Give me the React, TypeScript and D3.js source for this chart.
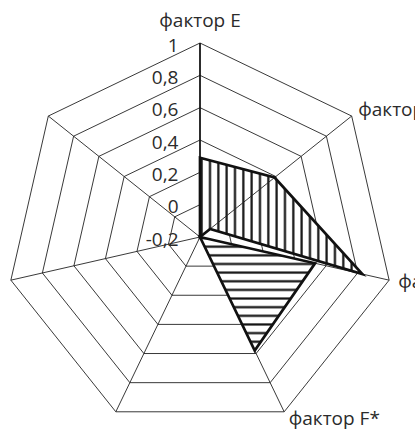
import React from "react";
import * as d3 from "d3";

// категории (по часовой стрелке от верхней оси)
const categories = ["фактор E", "фактор C", "фактор A", "фактор F*", "", "", ""];
const ticks = [-0.2, 0, 0.2, 0.4, 0.6, 0.8, 1];

// ряд с вертикальной штриховкой: индексы осей и значения по порядку обхода
const vertAxes = [0, 1, 2, 1, 0];
const vertValues = [0.29, 0.39, 0.83, -0.12, -0.2];

// ряд с горизонтальной штриховкой
const horizValues = [-0.2, -0.2, 0.53, 0.58, -0.2, -0.2, -0.2];

const W = 415;
const H = 430;
const cx = 200;
const cy = 237;
const R = 194;

// смещения подписей категорий относительно вершины
const labelPos = [
  { dx: 0, dy: -16.5, anchor: "middle" },
  { dx: 6.5, dy: 0, anchor: "start" },
  { dx: 9, dy: 8, anchor: "start" },
  { dx: 4.5, dy: 13.5, anchor: "start" },
  { dx: -5, dy: 13.5, anchor: "end" },
  { dx: -9, dy: 8, anchor: "end" },
  { dx: -6, dy: 0, anchor: "end" },
];

const font = "'Open Sans', sans-serif";
const fontSize = 19;
const textColor = "#2b2b2b";

export default function App() {
  const n = categories.length;
  const r = d3.scaleLinear().domain([-0.2, 1]).range([0, R]);
  const angle = (i: number) => (i * 2 * Math.PI) / n;

  const ring = d3
    .lineRadial<number>()
    .angle((_, i) => angle(i))
    .radius((d) => r(d))
    .curve(d3.curveLinearClosed);

  const vertPath = d3
    .lineRadial<number>()
    .angle((_, i) => angle(vertAxes[i]))
    .radius((d) => r(d))
    .curve(d3.curveLinearClosed)(vertValues);

  const horizPath = ring(horizValues);

  const pt = (i: number, v: number) => {
    const a = angle(i);
    return [r(v) * Math.sin(a), -r(v) * Math.cos(a)];
  };

  const fmt = (v: number) => String(v).replace(".", ",");

  return (
    <svg
      width={W}
      height={H}
      style={{ position: "absolute", left: 0, top: 0, background: "#fff" }}
    >
      <defs>
        <pattern id="vhatch" patternUnits="userSpaceOnUse" width={8.33} height={10} x={5.83} y={0}>
          <rect width={8.33} height={10} fill="#fff" />
          <line x1={4.165} x2={4.165} y1={0} y2={10} stroke="#111" strokeWidth={2.2} />
        </pattern>
        <pattern id="hhatch" patternUnits="userSpaceOnUse" width={10} height={8.64} x={0} y={5.38}>
          <rect width={10} height={8.64} fill="#fff" />
          <line x1={0} x2={10} y1={4.32} y2={4.32} stroke="#111" strokeWidth={2.2} />
        </pattern>
      </defs>
      <g transform={`translate(${cx},${cy})`}>
        {ticks.slice(1).map((t) => (
          <path
            key={t}
            d={ring(categories.map(() => t)) || ""}
            fill="none"
            stroke="#222"
            strokeWidth={0.9}
          />
        ))}

        <path d={vertPath || ""} fill="url(#vhatch)" stroke="none" />
        <path d={horizPath || ""} fill="url(#hhatch)" stroke="none" />

        {categories.map((_, i) => {
          const [x, y] = pt(i, 1);
          return <line key={i} x1={0} y1={0} x2={x} y2={y} stroke="#222" strokeWidth={0.9} />;
        })}

        <path d={vertPath || ""} fill="none" stroke="#111" strokeWidth={2.7} strokeLinejoin="miter" />
        <path d={horizPath || ""} fill="none" stroke="#111" strokeWidth={2.7} strokeLinejoin="miter" />

        <line x1={0} y1={0} x2={0} y2={-r(1)} stroke="#111" strokeWidth={1.6} />

        {ticks.map((t) => (
          <text
            key={t}
            x={-21.5}
            y={-r(t) + 8.5}
            textAnchor="end"
            fontFamily={font}
            fontSize={fontSize}
            fill={textColor}
          >
            {fmt(t)}
          </text>
        ))}

        {categories.map((c, i) => {
          const [x, y] = pt(i, 1);
          const p = labelPos[i];
          return c ? (
            <text
              key={i}
              x={x + p.dx}
              y={y + p.dy}
              textAnchor={p.anchor}
              fontFamily={font}
              fontSize={fontSize}
              fill={textColor}
            >
              {c}
            </text>
          ) : null;
        })}
      </g>
    </svg>
  );
}
